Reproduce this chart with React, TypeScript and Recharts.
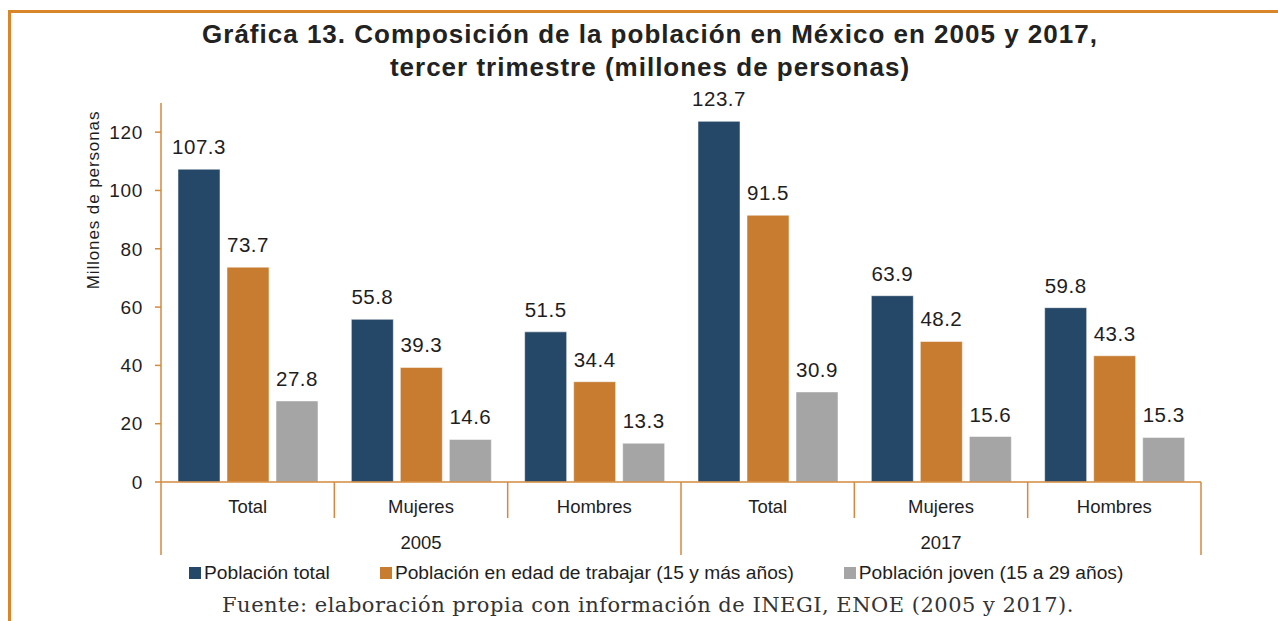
import { BarChart, Bar, XAxis, YAxis, Legend, LabelList, Label } from "recharts";

const categories = ["Total", "Mujeres", "Hombres", "Total", "Mujeres", "Hombres"];
const years = ["2005", "2005", "2005", "2017", "2017", "2017"];
const poblacionTotal = [107.3, 55.8, 51.5, 123.7, 63.9, 59.8];
const poblacionTrabajar = [73.7, 39.3, 34.4, 91.5, 48.2, 43.3];
const poblacionJoven = [27.8, 14.6, 13.3, 30.9, 15.6, 15.3];
const yTicks = [0, 20, 40, 60, 80, 100, 120];

const seriesNames = [
  "Población total",
  "Población en edad de trabajar (15 y más años)",
  "Población joven (15 a 29 años)",
];

const BLUE = "#264868";
const ORANGE = "#C77C30";
const GRAY = "#A5A5A5";
const AXIS = "#D28A3E";
const TEXT = "#1e1e1e";
const FONT = "'Liberation Sans', Arial, sans-serif";

const W = 1278;
const H = 621;
const MARGIN = { top: 103, right: 77, bottom: 59, left: 0 };
const Y_AXIS_W = 161;
const X_AXIS_H = 80;
const BAND = (W - MARGIN.left - MARGIN.right - Y_AXIS_W) / categories.length;

const data = categories.map((c, i) => ({
  id: `${years[i]}-${c}`,
  total: poblacionTotal[i],
  trabajar: poblacionTrabajar[i],
  joven: poblacionJoven[i],
}));

function GroupTick(props: any) {
  const { x, y, index } = props;
  const left = x - BAND / 2;
  const groupStart = index % 3 === 0;
  const last = index === categories.length - 1;
  return (
    <g>
      <line x1={left} x2={left} y1={y} y2={y + (groupStart ? 73 : 36)} stroke={AXIS} strokeWidth={1.5} />
      {last && <line x1={x + BAND / 2} x2={x + BAND / 2} y1={y} y2={y + 73} stroke={AXIS} strokeWidth={1.5} />}
      <text x={x} y={y + 31} textAnchor="middle" fontSize={18.5} fill={TEXT} fontFamily={FONT}>
        {categories[index]}
      </text>
      {index % 3 === 1 && (
        <text x={x} y={y + 67} textAnchor="middle" fontSize={18.5} fill={TEXT} fontFamily={FONT}>
          {years[index]}
        </text>
      )}
    </g>
  );
}

function LegendContent(props: any) {
  const items = [...(props.payload || [])].sort(
    (a: any, b: any) => seriesNames.indexOf(a.value) - seriesNames.indexOf(b.value)
  );
  return (
    <div style={{ display: "flex", gap: 50, fontFamily: FONT, fontSize: 19.2, color: TEXT, whiteSpace: "nowrap" }}>
      {items.map((p: any) => (
        <div key={p.value} style={{ display: "flex", alignItems: "center" }}>
          <span style={{ width: 12, height: 12, background: p.color, display: "inline-block", marginRight: 3 }} />
          <span>{p.value}</span>
        </div>
      ))}
    </div>
  );
}

export default function App() {
  return (
    <div style={{ position: "absolute", left: 0, top: 0, width: W, height: H, overflow: "hidden", background: "#fff" }}>
      <div
        style={{
          position: "absolute",
          left: 8,
          top: 10,
          width: W,
          height: H,
          borderLeft: "3px solid #D9862B",
          borderTop: "3px solid #D9862B",
        }}
      />
      <div
        style={{
          position: "absolute",
          left: 0,
          top: 18,
          width: 1300,
          textAlign: "center",
          fontFamily: FONT,
          fontWeight: "bold",
          fontSize: 26,
          letterSpacing: 1,
          lineHeight: "33px",
          color: "#222",
        }}
      >
        <div>Gráfica 13. Composición de la población en México en 2005 y 2017,</div>
        <div>tercer trimestre (millones de personas)</div>
      </div>
      <BarChart width={W} height={H} data={data} margin={MARGIN} barSize={42} barGap={7}>
        <XAxis
          dataKey="id"
          height={X_AXIS_H}
          axisLine={{ stroke: AXIS, strokeWidth: 1.5 }}
          tickLine={false}
          tickSize={0}
          tickMargin={0}
          tick={<GroupTick />}
          interval={0}
        />
        <YAxis
          width={Y_AXIS_W}
          domain={[0, 130]}
          ticks={yTicks}
          axisLine={{ stroke: AXIS, strokeWidth: 1.5 }}
          tickLine={{ stroke: AXIS, strokeWidth: 1.5 }}
          tickSize={6}
          tickMargin={12}
          tick={{ fill: TEXT, fontSize: 19, letterSpacing: 0.7, fontFamily: FONT }}
        >
          <Label
            content={() => (
              <text
                x={93}
                y={200}
                transform="rotate(-90 93 200)"
                textAnchor="middle"
                dominantBaseline="central"
                fontSize={17}
                letterSpacing={0.9}
                fill={TEXT}
                fontFamily={FONT}
              >
                Millones de personas
              </text>
            )}
          />
        </YAxis>
        <Legend
          verticalAlign="middle"
          align="center"
          content={<LegendContent />}
          wrapperStyle={{ position: "absolute", top: 562, left: 189, width: 1000 }}
        />
        <Bar dataKey="total" name={seriesNames[0]} fill={BLUE} stroke="#ffffff" strokeOpacity={0.5} isAnimationActive={false}>
          <LabelList dataKey="total" position="top" offset={15} fill={TEXT} fontSize={20.5} letterSpacing={0.5} fontFamily={FONT} />
        </Bar>
        <Bar dataKey="trabajar" name={seriesNames[1]} fill={ORANGE} stroke="#ffffff" strokeOpacity={0.5} isAnimationActive={false}>
          <LabelList dataKey="trabajar" position="top" offset={15} fill={TEXT} fontSize={20.5} letterSpacing={0.5} fontFamily={FONT} />
        </Bar>
        <Bar dataKey="joven" name={seriesNames[2]} fill={GRAY} stroke="#ffffff" strokeOpacity={0.5} isAnimationActive={false}>
          <LabelList dataKey="joven" position="top" offset={15} fill={TEXT} fontSize={20.5} letterSpacing={0.5} fontFamily={FONT} />
        </Bar>
      </BarChart>
      <div
        style={{
          position: "absolute",
          left: 0,
          top: 593,
          width: 1296,
          textAlign: "center",
          fontFamily: "'DejaVu Serif', serif",
          fontSize: 21,
          letterSpacing: 0.5,
          color: "#333",
        }}
      >
        Fuente: elaboración propia con información de INEGI, ENOE (2005 y 2017).
      </div>
    </div>
  );
}
